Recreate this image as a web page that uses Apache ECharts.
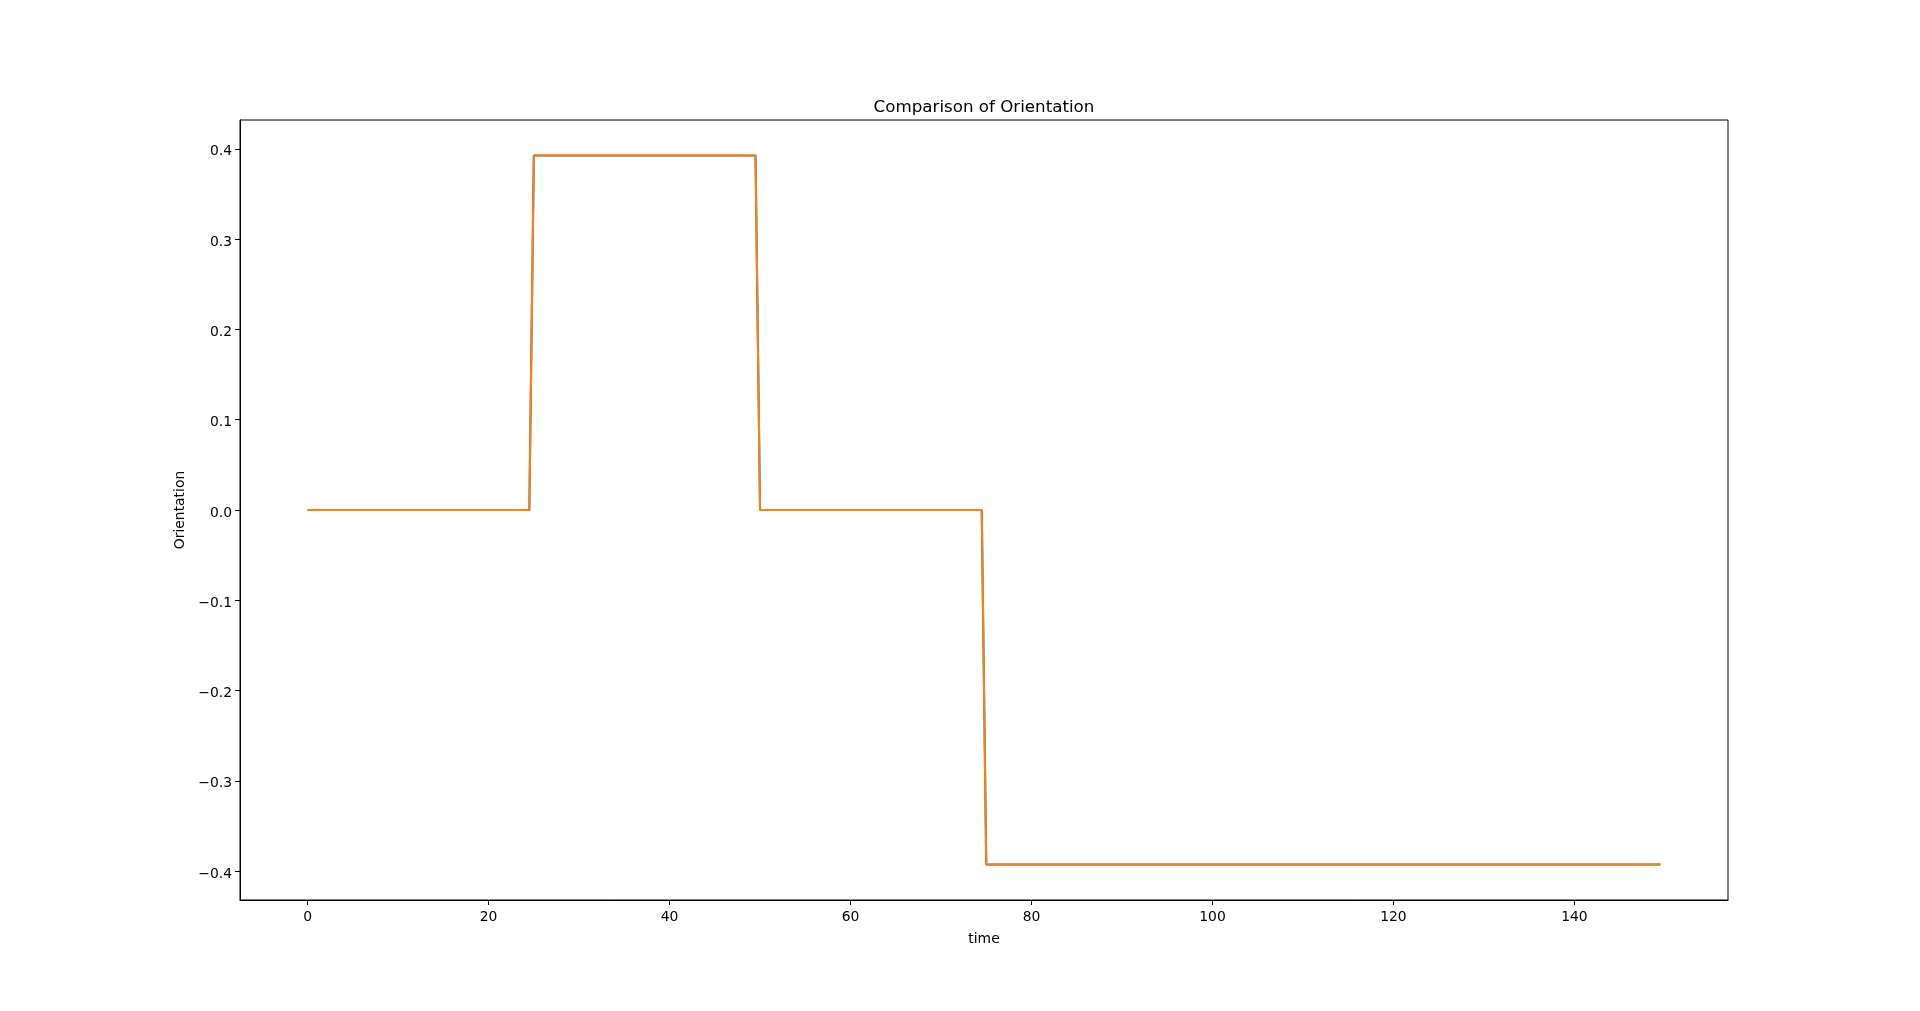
<!DOCTYPE html>
<html>
<head>
<meta charset="utf-8">
<script src="https://cdn.jsdelivr.net/npm/echarts@6/dist/echarts.min.js"></script>
<style>
  html, body { margin: 0; padding: 0; background: #fff; }
  #chart { width: 1920px; height: 1011px; }
</style>
</head>
<body>
<div id="chart"></div>
<script>
// corner points of the step signal
const timeA = [0, 24.5, 25, 49.5, 50, 74.5, 75, 149.5];
const orientA = [0, 0, 0.3927, 0.3927, 0, 0, -0.3927, -0.3927];
const timeB = [0, 24.5, 25, 49.5, 50, 74.5, 75, 149.5];
const orientB = [0, 0, 0.3927, 0.3927, 0, 0, -0.3927, -0.3927];

const xTicks = [0, 20, 40, 60, 80, 100, 120, 140];
const yTicks = [-0.4, -0.3, -0.2, -0.1, 0.0, 0.1, 0.2, 0.3, 0.4];

const font = 'DejaVu Sans';
const minus = (s) => s.replace('-', '\u2212');

let chartDom = document.getElementById('chart');
let myChart = echarts.init(chartDom);

const pairs = (xs, ys) => xs.map((x, i) => [x, ys[i]]);

myChart.setOption({
  backgroundColor: '#fff',
  animation: false,
  title: {
    text: 'Comparison of Orientation',
    left: 979,
    top: 94,
    textAlign: 'center',
    textStyle: { fontFamily: font, fontSize: 16.7, fontWeight: 'normal', color: '#000' },
  },
  grid: {
    left: 240,
    right: 192,
    top: 120,
    bottom: 111,
    show: true,
    borderColor: '#000',
    borderWidth: 1,
    backgroundColor: 'transparent',
  },
  xAxis: {
    type: 'value',
    min: -7.475,
    max: 156.975,
    name: 'time',
    nameLocation: 'middle',
    nameGap: 32,
    nameTextStyle: { fontFamily: font, fontSize: 13.9, color: '#000' },
    splitLine: { show: false },
    axisLine: { show: true, onZero: false, lineStyle: { color: '#000', width: 1 } },
    axisTick: { show: true, length: 5, customValues: xTicks, lineStyle: { color: '#000' } },
    axisLabel: {
      customValues: xTicks,
      margin: 10,
      fontFamily: font, fontSize: 13.9, color: '#000',
      formatter: (v) => minus(String(v)),
    },
  },
  yAxis: {
    type: 'value',
    min: -0.432,
    max: 0.432,
    name: 'Orientation',
    nameLocation: 'middle',
    nameGap: 45,
    nameTextStyle: { fontFamily: font, fontSize: 13.9, color: '#000' },
    splitLine: { show: false },
    axisLine: { show: true, onZero: false, lineStyle: { color: '#000', width: 1 } },
    axisTick: { show: true, length: 5, customValues: yTicks, lineStyle: { color: '#000' } },
    axisLabel: {
      customValues: yTicks,
      margin: 8,
      formatter: (v) => '{v|' + minus(v.toFixed(1)) + '}',
      rich: {
        v: { padding: [6, 0, 0, 0], fontFamily: font, fontSize: 13.9, color: '#000' },
      },
    },
  },
  series: [
    {
      name: 'reference',
      type: 'line',
      data: pairs(timeA, orientA),
      showSymbol: false,
      lineStyle: { color: '#1f77b4', width: 2.1 },
      z: 2,
    },
    {
      name: 'actual',
      type: 'line',
      data: pairs(timeB, orientB),
      showSymbol: false,
      lineStyle: { color: '#ff7f0e', width: 2.1 },
      z: 3,
    },
  ],
});
</script>
</body>
</html>
